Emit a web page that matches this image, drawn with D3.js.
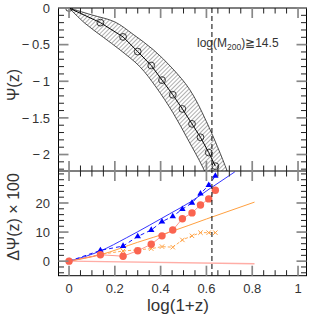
<!DOCTYPE html>
<html lang="en">
<head>
<meta charset="UTF-8">
<title>Psi(z) panels</title>
<script src="https://d3js.org/d3.v7.min.js"></script>
<style>
  body { margin: 0; background: #fff; }
  svg text { font-family: "Liberation Sans", Arial, sans-serif; fill: #333; }
</style>
</head>
<body>
<svg width="316" height="316"></svg>
<script>
// ---- data ----
const logZ = [0, 0.137, 0.236, 0.300, 0.359, 0.406, 0.453, 0.495, 0.537, 0.574, 0.610, 0.639];
const psiMean = [0, -0.20, -0.395, -0.595, -0.785, -0.984, -1.184, -1.378, -1.582, -1.765, -1.973, -2.159];

const bandUpperX = [0, 0.10, 0.20, 0.28, 0.367, 0.45, 0.527, 0.60, 0.69, 0.72];
const bandUpperY = [0, -0.095, -0.19, -0.36, -0.567, -0.82, -1.113, -1.55, -2.22, -2.5];
const bandLowerX = [0, 0.07, 0.15, 0.222, 0.309, 0.38, 0.454, 0.52, 0.585, 0.63];
const bandLowerY = [0, -0.21, -0.40, -0.57, -0.80, -1.08, -1.43, -1.80, -2.18, -2.5];

const dPsiRed = [0, 2.2, 1.7, 3.6, 5.8, 8.7, 10.7, 14.6, 16.6, 19.3, 21.4, 24.4];
const dPsiBlue = [0, 3.7, 5.2, 8.5, 10.7, 13.6, 15.4, 17.9, 20.0, 23.2, 26.1, 29.3];
const dPsiOrange = [0, 2.3, 3.5, 3.9, 4.3, 5.0, 4.8, 7.3, 8.7, 9.8, 9.8, 9.8];

const blueLineX = [0, 0.137, 0.25, 0.35, 0.44, 0.529, 0.616, 0.724];
const blueLineY = [0, 3.5, 8.0, 12.3, 16.3, 20.3, 25.0, 30.7];
const orangeLineX = [0, 0.137, 0.30, 0.44, 0.60, 0.81];
const orangeLineY = [0, 2.2, 6.5, 10.0, 14.5, 20.3];
const pinkLineX = [0, 0.81];
const pinkLineY = [0, -0.9];

const xMajor = [0, 0.2, 0.4, 0.6, 0.8, 1];
const topMajor = [0, -0.5, -1, -1.5, -2];
const botMajor = [0, 10, 20];
const massCut = 0.624;

// ---- layout ----
const L = 58.5, R = 306.5, T = 8, M = 171, B = 275.7;
const svg = d3.select("svg");

const x = d3.scaleLinear().domain([-0.046, 1.037]).range([L, R]);
const yTop = d3.scaleLinear().domain([0, -2.225]).range([T, M]);
const yBot = d3.scaleLinear().domain([31, -5]).range([M, B]);
const zip = (xs, ys) => xs.map((v, i) => [v, ys[i]]);

const defs = svg.append("defs");
const hatch = defs.append("pattern")
  .attr("id", "hatch").attr("patternUnits", "userSpaceOnUse")
  .attr("width", 3).attr("height", 3)
  .attr("patternTransform", "rotate(45)");
hatch.append("line").attr("x1", 1.5).attr("y1", 0).attr("x2", 1.5).attr("y2", 3)
  .attr("stroke", "#9a9a9a").attr("stroke-width", 0.8);
defs.append("clipPath").attr("id", "clipTop").append("rect")
  .attr("x", L).attr("y", T).attr("width", R - L).attr("height", M - T);
defs.append("clipPath").attr("id", "clipBot").append("rect")
  .attr("x", L).attr("y", M).attr("width", R - L).attr("height", B - M);

// ---- top panel: band + mean ----
const gTop = svg.append("g").attr("clip-path", "url(#clipTop)");
const upperPts = zip(bandUpperX, bandUpperY);
const lowerPts = zip(bandLowerX, bandLowerY);
const bandLine = d3.line().x(d => x(d[0])).y(d => yTop(d[1])).curve(d3.curveCatmullRom);

const upPath = bandLine(upperPts);
const lowPathRev = bandLine(lowerPts.slice().reverse());
gTop.append("path")
  .attr("d", upPath + "L" + lowPathRev.slice(1) + "Z")
  .attr("fill", "url(#hatch)").attr("stroke", "none");
gTop.append("path").attr("d", upPath)
  .attr("fill", "none").attr("stroke", "#222").attr("stroke-width", 0.8);
gTop.append("path").attr("d", bandLine(lowerPts))
  .attr("fill", "none").attr("stroke", "#222").attr("stroke-width", 0.8);

const meanPts = zip(logZ, psiMean);
gTop.append("path").attr("d", d3.line().x(d => x(d[0])).y(d => yTop(d[1]))(meanPts))
  .attr("fill", "none").attr("stroke", "#000").attr("stroke-width", 1);
gTop.selectAll("circle.mean").data(meanPts).join("circle")
  .attr("class", "mean")
  .attr("cx", d => x(d[0])).attr("cy", d => yTop(d[1])).attr("r", 3.4)
  .attr("fill", "none").attr("stroke", "#222").attr("stroke-width", 0.9);

// ---- bottom panel ----
const gBot = svg.append("g").attr("clip-path", "url(#clipBot)");
const lineBot = d3.line().x(d => x(d[0])).y(d => yBot(d[1]));
const smoothBot = d3.line().x(d => x(d[0])).y(d => yBot(d[1])).curve(d3.curveMonotoneX);

gBot.append("path").attr("d", lineBot(zip(pinkLineX, pinkLineY)))
  .attr("fill", "none").attr("stroke", "#ff8a80").attr("stroke-opacity", 0.7).attr("stroke-width", 1.4);
gBot.append("path").attr("d", smoothBot(zip(orangeLineX, orangeLineY)))
  .attr("fill", "none").attr("stroke", "#ffa040").attr("stroke-width", 1);
gBot.append("path").attr("d", smoothBot(zip(blueLineX, blueLineY)))
  .attr("fill", "none").attr("stroke", "#3535ff").attr("stroke-width", 1);

const orangePts = zip(logZ, dPsiOrange);
gBot.append("path").attr("d", lineBot(orangePts))
  .attr("fill", "none").attr("stroke", "#ffa040").attr("stroke-width", 0.9)
  .attr("stroke-dasharray", "3,2");
gBot.selectAll("path.cross").data(orangePts.slice(1)).join("path")
  .attr("class", "cross")
  .attr("d", d => { const cx = x(d[0]), cy = yBot(d[1]), s = 2.2;
    return `M${cx - s},${cy - s}L${cx + s},${cy + s}M${cx - s},${cy + s}L${cx + s},${cy - s}`; })
  .attr("stroke", "#ffa040").attr("stroke-width", 1).attr("fill", "none");

const bluePts = zip(logZ, dPsiBlue);
gBot.append("path").attr("d", lineBot(bluePts))
  .attr("fill", "none").attr("stroke", "#0000ff").attr("stroke-width", 0.9)
  .attr("stroke-dasharray", "4,3");
const tri = d3.symbol().type(d3.symbolTriangle).size(18);
gBot.selectAll("path.tri").data(bluePts).join("path")
  .attr("class", "tri")
  .attr("transform", d => `translate(${x(d[0])},${yBot(d[1])})`)
  .attr("d", tri).attr("fill", "#0000ff");

const redPts = zip(logZ, dPsiRed);
gBot.append("path").attr("d", lineBot(redPts))
  .attr("fill", "none").attr("stroke", "#ff8070").attr("stroke-width", 0.8);
gBot.selectAll("circle.red").data(redPts).join("circle")
  .attr("class", "red")
  .attr("cx", d => x(d[0])).attr("cy", d => yBot(d[1])).attr("r", 3.7)
  .attr("fill", "#fa6450");

// ---- dashed mass cut ----
svg.append("line")
  .attr("x1", x(massCut)).attr("x2", x(massCut)).attr("y1", T).attr("y2", B)
  .attr("stroke", "#000").attr("stroke-width", 1).attr("stroke-dasharray", "5,3");

// ---- frames and ticks ----
const frame = svg.append("g").attr("fill", "none");
frame.append("rect").attr("x", L).attr("y", T).attr("width", R - L).attr("height", B - T)
  .attr("stroke", "#000");
frame.append("line").attr("x1", L).attr("x2", R).attr("y1", M).attr("y2", M).attr("stroke", "#000");

const ticks = svg.append("g");
function tick(x1, y1, x2, y2, major) {
  ticks.append("line").attr("x1", x1).attr("y1", y1).attr("x2", x2).attr("y2", y2)
    .attr("stroke", major ? "#888" : "#222").attr("stroke-width", major ? 1.7 : 1);
}
d3.range(0, 1.0001, 0.05).forEach(v => {
  const major = xMajor.some(m => Math.abs(m - v) < 1e-6);
  const len = major ? 10 : 5.5;
  const px = x(v);
  [T, M].forEach(yy => tick(px, yy, px, yy + len, major));
  [M, B].forEach(yy => tick(px, yy, px, yy - len, major));
});
d3.range(0, -2.21, -0.1).forEach(v => {
  const major = topMajor.some(m => Math.abs(m - v) < 1e-6);
  const len = major ? 10 : 5.5;
  const py = yTop(v);
  tick(L, py, L + len, py, major);
  tick(R, py, R - len, py, major);
});
d3.range(-4, 30.01, 2).forEach(v => {
  const major = botMajor.some(m => Math.abs(m - v) < 1e-6);
  const len = major ? 10 : 5.5;
  const py = yBot(v);
  tick(L, py, L + len, py, major);
  tick(R, py, R - len, py, major);
});

// ---- labels ----
const fmt = v => (v < 0 ? "\u2212\u2009" : "") + Math.abs(v);
svg.append("g").selectAll("text").data(xMajor).join("text")
  .attr("x", d => x(d)).attr("y", 293).attr("text-anchor", "middle")
  .attr("font-size", 13).text(d => d);
svg.append("g").selectAll("text").data(topMajor).join("text")
  .attr("x", 50).attr("y", d => yTop(d)).attr("dy", "0.36em").attr("text-anchor", "end")
  .attr("font-size", 13).text(fmt);
svg.append("g").selectAll("text").data(botMajor).join("text")
  .attr("x", 50).attr("y", d => yBot(d)).attr("dy", "0.36em").attr("text-anchor", "end")
  .attr("font-size", 13).text(fmt);

svg.append("text").attr("transform", "translate(19,85) rotate(-90)")
  .attr("text-anchor", "middle").attr("font-size", 16).text("\u03a8(z)");
svg.append("text").attr("transform", "translate(19,217) rotate(-90)")
  .attr("text-anchor", "middle").attr("font-size", 16).text("\u0394\u03a8(z) \u00d7 100");
svg.append("text").attr("x", 178).attr("y", 311).attr("text-anchor", "middle")
  .attr("font-size", 17).text("log(1+z)");

const mLabel = svg.append("text").attr("x", 197).attr("y", 47).attr("font-size", 12);
mLabel.append("tspan").text("log(M");
mLabel.append("tspan").attr("font-size", 8.5).attr("dy", 3).text("200");
mLabel.append("tspan").attr("dy", -3).text(")\u226714.5");
</script>
</body>
</html>
